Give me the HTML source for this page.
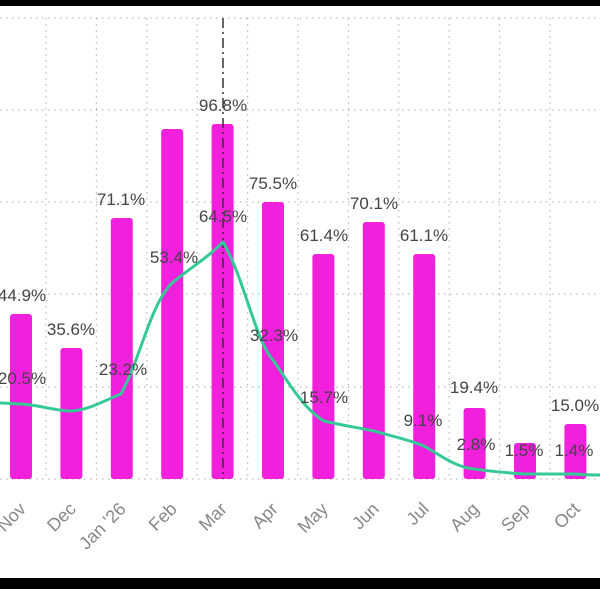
<!DOCTYPE html>
<html><head><meta charset="utf-8"><style>
html,body{margin:0;padding:0;background:#fff;}
svg{display:block;}
text{font-family:"Liberation Sans",sans-serif;}
</style></head><body>
<svg width="600" height="589" viewBox="0 0 600 589" xmlns="http://www.w3.org/2000/svg">
<rect x="0" y="0" width="600" height="589" fill="#fff"/>
<g stroke="#bbb" stroke-width="1.2" stroke-dasharray="1.5 4.5">
<line x1="0" y1="18" x2="600" y2="18"/>
<line x1="0" y1="110" x2="600" y2="110"/>
<line x1="0" y1="202" x2="600" y2="202"/>
<line x1="0" y1="294" x2="600" y2="294"/>
<line x1="0" y1="387" x2="600" y2="387"/>
<line x1="0" y1="479" x2="600" y2="479"/>
<line x1="46" y1="18" x2="46" y2="479"/>
<line x1="96.4" y1="18" x2="96.4" y2="479"/>
<line x1="146.8" y1="18" x2="146.8" y2="479"/>
<line x1="197.2" y1="18" x2="197.2" y2="479"/>
<line x1="247.6" y1="18" x2="247.6" y2="479"/>
<line x1="298" y1="18" x2="298" y2="479"/>
<line x1="348.4" y1="18" x2="348.4" y2="479"/>
<line x1="398.8" y1="18" x2="398.8" y2="479"/>
<line x1="449.2" y1="18" x2="449.2" y2="479"/>
<line x1="499.6" y1="18" x2="499.6" y2="479"/>
<line x1="550" y1="18" x2="550" y2="479"/>
</g>
<g fill="#f020dc">
<rect x="10" y="314" width="22" height="165" rx="3"/>
<rect x="60.4" y="348" width="22" height="131" rx="3"/>
<rect x="110.8" y="218" width="22" height="261" rx="3"/>
<rect x="161.2" y="129" width="22" height="350" rx="3"/>
<rect x="211.6" y="124" width="22" height="355" rx="3"/>
<rect x="262" y="202" width="22" height="277" rx="3"/>
<rect x="312.4" y="254" width="22" height="225" rx="3"/>
<rect x="362.8" y="222" width="22" height="257" rx="3"/>
<rect x="413.2" y="254" width="22" height="225" rx="3"/>
<rect x="463.6" y="408" width="22" height="71" rx="3"/>
<rect x="514" y="443" width="22" height="36" rx="3"/>
<rect x="564.4" y="424" width="22" height="55" rx="3"/>
<rect x="614.8" y="440" width="22" height="39" rx="3"/>
</g>
<line x1="223" y1="18" x2="223" y2="479" stroke="#333" stroke-width="1.5" stroke-dasharray="10 4 2 4"/>
<path d="M0,403 C8,403 15,404 21,404 C40,405 55,411 71,411 C90,410 105,400 121,394 C140,360 150,305 172,283 C190,268 205,260 223,242 C245,280 255,340 273,360 C290,385 305,410 324,421 C340,425 355,427 374,431 C395,437 410,440 424,446 C440,455 455,467 474,469 C490,471 505,473 525,474 C545,474 560,474 575,474 C585,475 595,475 600,475" fill="none" stroke="#34c996" stroke-width="3" stroke-linejoin="round"/>
<g font-size="17" fill="#444" text-anchor="middle">
<text x="22" y="301">44.9%</text>
<text x="71" y="335">35.6%</text>
<text x="121" y="205">71.1%</text>
<text x="223" y="111">96.8%</text>
<text x="273" y="189">75.5%</text>
<text x="324" y="241">61.4%</text>
<text x="374" y="209">70.1%</text>
<text x="424" y="241">61.1%</text>
<text x="474" y="393">19.4%</text>
<text x="575" y="411">15.0%</text>
<text x="22" y="384">20.5%</text>
<text x="123" y="375">23.2%</text>
<text x="174" y="263">53.4%</text>
<text x="223" y="222">64.5%</text>
<text x="274" y="341">32.3%</text>
<text x="324" y="403">15.7%</text>
<text x="423" y="426">9.1%</text>
<text x="476" y="450">2.8%</text>
<text x="524" y="456">1.5%</text>
<text x="574" y="456">1.4%</text>
</g>
<g font-size="18" fill="#888" text-anchor="end">
<text transform="translate(27,510) rotate(-45)">Nov</text>
<text transform="translate(77,510) rotate(-45)">Dec</text>
<text transform="translate(127,510) rotate(-45)">Jan '26</text>
<text transform="translate(178,510) rotate(-45)">Feb</text>
<text transform="translate(228,510) rotate(-45)">Mar</text>
<text transform="translate(279,510) rotate(-45)">Apr</text>
<text transform="translate(329,510) rotate(-45)">May</text>
<text transform="translate(380,510) rotate(-45)">Jun</text>
<text transform="translate(430,510) rotate(-45)">Jul</text>
<text transform="translate(480,510) rotate(-45)">Aug</text>
<text transform="translate(531,510) rotate(-45)">Sep</text>
<text transform="translate(581,510) rotate(-45)">Oct</text>
<text transform="translate(631,510) rotate(-45)">Nov</text>
</g>
<rect x="0" y="0" width="600" height="6" fill="#000"/>
<rect x="0" y="578" width="600" height="11" fill="#000"/>
</svg>
</body></html>
